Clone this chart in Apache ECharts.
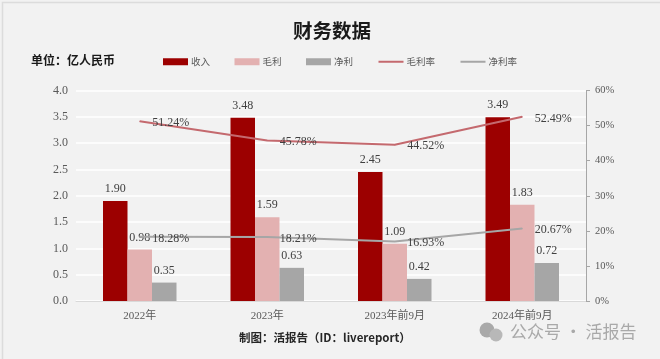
<!DOCTYPE html>
<html><head><meta charset="utf-8">
<style>html,body{margin:0;padding:0;background:#f2f2f2}#c{width:660px;height:359px}</style>
<script src="https://cdn.jsdelivr.net/npm/echarts@6/dist/echarts.min.js"></script></head>
<body><div id="c"></div>
<script>
const categories = ['2022年','2023年','2023年前9月','2024年前9月'];
const revenue = [1.90,3.48,2.45,3.49];
const grossProfit = [0.98,1.59,1.09,1.83];
const netProfit = [0.35,0.63,0.42,0.72];
const grossMargin = [51.24,45.78,44.52,52.49];
const netMargin = [18.28,18.21,16.93,20.67];
const SERIF = '"Liberation Serif","Noto Sans CJK SC",serif';
const CJK = '"Noto Sans CJK SC",sans-serif';
const chart = echarts.init(document.getElementById('c'));
const barLabel = {show:true,position:'top',distance:6,color:'#404040',fontFamily:SERIF,fontSize:12,formatter:p=>p.value.toFixed(2)};
const lineLabel = {show:true,position:'right',distance:12,offset:[0,1.5],color:'#404040',fontFamily:SERIF,fontSize:12,formatter:p=>p.value.toFixed(2)+'%'};
const hiddenDot = {color:'transparent',opacity:0,borderWidth:0};
chart.setOption({
  backgroundColor:'#f2f2f2',
  animation:false,
  grid:{left:76,right:74,top:90.5,bottom:58,containLabel:false},
  legend:{
    left:158,top:52,itemWidth:25,itemHeight:7,itemGap:24.5,
    textStyle:{color:'#595959',fontFamily:CJK,fontSize:9.5,padding:[0,0,0,-2]},
    data:[{name:'收入',icon:'rect'},{name:'毛利',icon:'rect'},{name:'净利',icon:'rect'},{name:'毛利率',itemStyle:hiddenDot},{name:'净利率',itemStyle:hiddenDot}]
  },
  xAxis:{type:'category',data:categories,
    axisLine:{lineStyle:{color:'#d9d9d9',width:1}},axisTick:{show:false},
    axisLabel:{color:'#595959',fontFamily:SERIF,fontSize:11,margin:10}},
  yAxis:[
    {type:'value',min:0,max:4,interval:0.5,
     axisLine:{show:false},axisTick:{show:false},
     splitLine:{lineStyle:{color:'#ffffff',width:1.5}},
     axisLabel:{color:'#595959',fontFamily:SERIF,fontSize:12,margin:8,formatter:v=>v.toFixed(1)}},
    {type:'value',min:0,max:60,interval:10,position:'right',
     axisLine:{show:true,lineStyle:{color:'#a6a6a6',width:1}},
     axisTick:{show:true,length:4,inside:false,lineStyle:{color:'#a6a6a6'}},
     splitLine:{show:false},
     axisLabel:{color:'#595959',fontFamily:SERIF,fontSize:10.5,margin:9,formatter:'{value}%'}}
  ],
  series:[
    {name:'收入',type:'bar',data:revenue,barWidth:24.5,barGap:'0%',itemStyle:{color:'#9c0000'},label:barLabel},
    {name:'毛利',type:'bar',data:grossProfit,barWidth:24.5,itemStyle:{color:'#e3b1b1'},label:barLabel},
    {name:'净利',type:'bar',data:netProfit,barWidth:24.5,itemStyle:{color:'#a6a6a6'},label:barLabel},
    {name:'毛利率',type:'line',yAxisIndex:1,data:grossMargin,symbol:'circle',symbolSize:1,showSymbol:true,lineStyle:{color:'#c4696e',width:2},itemStyle:{color:'#c4696e'},label:lineLabel},
    {name:'净利率',type:'line',yAxisIndex:1,data:netMargin,symbol:'circle',symbolSize:1,showSymbol:true,lineStyle:{color:'#a6a6a6',width:2},itemStyle:{color:'#a6a6a6'},label:lineLabel}
  ],
  graphic:[
    {type:'rect',left:0,top:0,shape:{width:659,height:358},style:{fill:'none',stroke:'#dcdcdc',lineWidth:1.5},silent:true},
    {type:'text',left:293,top:21,style:{text:'财务数据',fill:'#1a1a1a',font:'bold 19.5px "Noto Sans CJK SC"'}},
    {type:'text',left:31,top:54,style:{text:'单位：亿人民币',fill:'#1a1a1a',font:'bold 12px "Noto Sans CJK SC"'}},
    {type:'text',left:239,top:332,style:{text:'制图：活报告（ID：livereport）',fill:'#262626',font:'bold 11.5px "Noto Sans CJK SC"'}},
    {type:'text',left:510,top:323,style:{text:'公众号 · 活报告',fill:'#a9a9a9',font:'17px "Noto Sans CJK SC"'}},
    {type:'circle',shape:{cx:487,cy:330,r:7.5},style:{fill:'#a9a9a9'}},
    {type:'circle',shape:{cx:496,cy:335,r:6.5},style:{fill:'#b8b8b8'}}
  ]
});
</script></body></html>
